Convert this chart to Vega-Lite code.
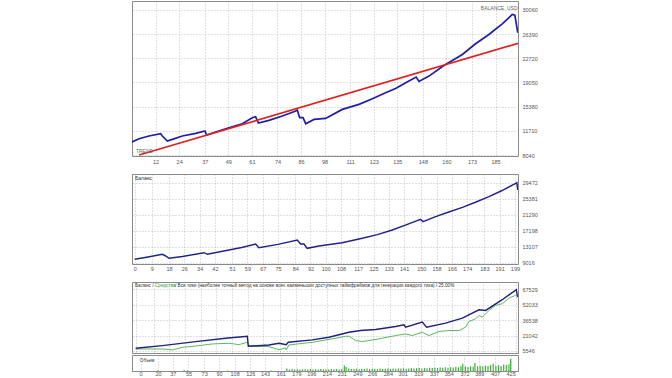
{
  "$schema": "https://vega.github.io/schema/vega-lite/v6.json",
  "padding": {"left": 131, "top": 0, "right": 0, "bottom": 0},
  "autosize": {"type": "pad"},
  "background": "white",
  "bounds": "flush",
  "spacing": 18,
  "config": {
    "view": {"stroke": "#8a8a8a", "strokeWidth": 1},
    "axis": {"grid": true, "gridDash": [1, 2], "gridColor": "#b0b0b0", "gridWidth": 0.8, "domain": false, "ticks": false, "labelFontSize": 5.5, "labelColor": "#555555", "labelFont": "Liberation Sans", "title": null, "format": "d", "labelOverlap": false, "labelFlush": false, "labelBound": false},
    "text": {"font": "Liberation Sans"}
  },
  "datasets": {
    "bal1": [
      {"x": 0, "y": 10011}, {"x": 3.56, "y": 10517}, {"x": 8.65, "y": 10921}, {"x": 14.58, "y": 11275}, {"x": 15.43, "y": 10921}, {"x": 17.97, "y": 10163}, {"x": 20.52, "y": 10416}, {"x": 25.6, "y": 10921}, {"x": 32.4, "y": 11326}, {"x": 37.1, "y": 11679}, {"x": 38.0, "y": 11073}, {"x": 42.6, "y": 11528}, {"x": 49.3, "y": 12185}, {"x": 56.1, "y": 12792}, {"x": 61.2, "y": 13701}, {"x": 62.9, "y": 13853}, {"x": 64.3, "y": 12893}, {"x": 69.7, "y": 13297}, {"x": 76.5, "y": 13954}, {"x": 83.3, "y": 14712}, {"x": 84.1, "y": 14864}, {"x": 85.3, "y": 13701}, {"x": 87.0, "y": 13701}, {"x": 88.4, "y": 12792}, {"x": 92.6, "y": 13449}, {"x": 98.5, "y": 13600}, {"x": 107.0, "y": 14965}, {"x": 115.5, "y": 15723}, {"x": 122.3, "y": 16583}, {"x": 129.0, "y": 17493}, {"x": 134.1, "y": 18150}, {"x": 140.9, "y": 19262}, {"x": 144.6, "y": 19869}, {"x": 146.0, "y": 19211}, {"x": 151.1, "y": 20020}, {"x": 158.7, "y": 21638}, {"x": 168.1, "y": 23306}, {"x": 174.8, "y": 24924}, {"x": 181.6, "y": 26339}, {"x": 188.4, "y": 27957}, {"x": 193.5, "y": 29372}, {"x": 194.8, "y": 29271}, {"x": 196.3, "y": 26592}
    ],
    "trend1": [{"x": 3.6, "y": 8040}, {"x": 196.4, "y": 24990}],
    "lab1": [{"t": "BALANCE, USD", "x": 177.5, "y": 30333}, {"t": "TREND", "x": 2, "y": 8700}],
    "bal2": [
      {"x": 0, "y": 9877}, {"x": 7, "y": 10500}, {"x": 14.5, "y": 11156}, {"x": 16, "y": 10800}, {"x": 18, "y": 10133}, {"x": 25, "y": 10600}, {"x": 36.3, "y": 11582}, {"x": 38, "y": 11156}, {"x": 49.3, "y": 12264}, {"x": 56, "y": 12900}, {"x": 63.3, "y": 13798}, {"x": 65, "y": 12860}, {"x": 75, "y": 13700}, {"x": 85.1, "y": 14821}, {"x": 86.8, "y": 13798}, {"x": 88.6, "y": 13798}, {"x": 90.3, "y": 12691}, {"x": 96.4, "y": 13287}, {"x": 108.6, "y": 14139}, {"x": 119.1, "y": 15247}, {"x": 127, "y": 16200}, {"x": 134.8, "y": 17378}, {"x": 142, "y": 18700}, {"x": 149.6, "y": 20105}, {"x": 150.9, "y": 19509}, {"x": 157.5, "y": 20787}, {"x": 164, "y": 21900}, {"x": 171.5, "y": 23173}, {"x": 178, "y": 24400}, {"x": 185.4, "y": 25901}, {"x": 192, "y": 27400}, {"x": 199.4, "y": 29310}, {"x": 200, "y": 29480}, {"x": 200.5, "y": 27600}
    ],
    "lab2": [{"t": "Баланс", "x": 0.2, "y": 30673}],
    "bal3": [
      {"x": 0, "y": 8229}, {"x": 29.8, "y": 10912}, {"x": 67.1, "y": 14937}, {"x": 100.6, "y": 18291}, {"x": 124.9, "y": 20303}, {"x": 126, "y": 10241}, {"x": 149.1, "y": 11583}, {"x": 160.3, "y": 13260}, {"x": 168.5, "y": 11919}, {"x": 170.7, "y": 14265}, {"x": 197.6, "y": 16614}, {"x": 216.2, "y": 19297}, {"x": 238.6, "y": 24328}, {"x": 251.6, "y": 26005}, {"x": 268.4, "y": 27011}, {"x": 290.8, "y": 30030}, {"x": 300.1, "y": 31707}, {"x": 302, "y": 29359}, {"x": 320.6, "y": 34390}, {"x": 325.5, "y": 29359}, {"x": 346.7, "y": 33386}, {"x": 365.4, "y": 38415}, {"x": 384, "y": 46800}, {"x": 391.5, "y": 46130}, {"x": 410.1, "y": 56862}, {"x": 425.8, "y": 66924}, {"x": 427.2, "y": 59545}
    ],
    "eq3": [
      {"x": 0, "y": 7563}, {"x": 29.8, "y": 7563}, {"x": 41, "y": 6557}, {"x": 52.2, "y": 9234}, {"x": 70, "y": 10800}, {"x": 85.7, "y": 12589}, {"x": 104.4, "y": 13260}, {"x": 115.5, "y": 11919}, {"x": 124.9, "y": 14265}, {"x": 127, "y": 10500}, {"x": 149.1, "y": 9906}, {"x": 160.3, "y": 6888}, {"x": 167.7, "y": 8565}, {"x": 168.5, "y": 6557}, {"x": 171.5, "y": 11583}, {"x": 197.6, "y": 14265}, {"x": 223.7, "y": 18291}, {"x": 234.9, "y": 20303}, {"x": 239, "y": 20303}, {"x": 246, "y": 15943}, {"x": 253.5, "y": 14937}, {"x": 272.1, "y": 17620}, {"x": 290.8, "y": 20974}, {"x": 302, "y": 22651}, {"x": 309.4, "y": 20974}, {"x": 320.6, "y": 24328}, {"x": 328.1, "y": 20974}, {"x": 339.3, "y": 24999}, {"x": 350.4, "y": 26005}, {"x": 361.6, "y": 26005}, {"x": 369.1, "y": 29359}, {"x": 372.8, "y": 35060}, {"x": 380.3, "y": 37744}, {"x": 384, "y": 41098}, {"x": 387.7, "y": 39421}, {"x": 395.2, "y": 46130}, {"x": 402.6, "y": 51160}, {"x": 410.1, "y": 52837}, {"x": 417.6, "y": 58539}, {"x": 425, "y": 61222}
    ],
    "lab3a": [{"t": "Баланс / ", "x": -0.8, "y": 70936}],
    "lab3b": [{"t": "Средства", "x": -0.8, "y": 70936}],
    "lab3c": [{"t": "/ Все тики (наиболее точный метод на основе всех наименьших доступных таймфреймов для генерации каждого тика) / 25.00%", "x": -0.8, "y": 70936}],
    "vol3": [
      {"x": 20, "v": 0.4}, {"x": 50, "v": 0.6}, {"x": 54, "v": 0.5}, {"x": 100, "v": 0.3}, {"x": 150, "v": 0.3},
      {"x": 168, "v": 1.5}, {"x": 171, "v": 1.0}, {"x": 174, "v": 1.2}, {"x": 177, "v": 1.0}, {"x": 180, "v": 1.1}, {"x": 183, "v": 0.9}, {"x": 186, "v": 1.0}, {"x": 189, "v": 1.1}, {"x": 192, "v": 0.9}, {"x": 195, "v": 1.2}, {"x": 198, "v": 1.0}, {"x": 201, "v": 1.1}, {"x": 204, "v": 0.9}, {"x": 207, "v": 1.2}, {"x": 210, "v": 1.0}, {"x": 213, "v": 1.1}, {"x": 216, "v": 1.0}, {"x": 219, "v": 1.2}, {"x": 222, "v": 1.1}, {"x": 225, "v": 1.3}, {"x": 228, "v": 1.0}, {"x": 231, "v": 1.2}, {"x": 234, "v": 3.5}, {"x": 236, "v": 2.5}, {"x": 239, "v": 1.5}, {"x": 242, "v": 1.3}, {"x": 245, "v": 1.2}, {"x": 248, "v": 1.4}, {"x": 251, "v": 1.1}, {"x": 254, "v": 1.3}, {"x": 257, "v": 1.2}, {"x": 260, "v": 1.5}, {"x": 263, "v": 1.2}, {"x": 266, "v": 1.3}, {"x": 269, "v": 1.4}, {"x": 272, "v": 1.2}, {"x": 275, "v": 1.5}, {"x": 278, "v": 1.3}, {"x": 281, "v": 1.4}, {"x": 284, "v": 1.6}, {"x": 287, "v": 1.3}, {"x": 290, "v": 1.5}, {"x": 293, "v": 1.4}, {"x": 296, "v": 1.6}, {"x": 299, "v": 1.5}, {"x": 302, "v": 1.7}, {"x": 305, "v": 1.4}, {"x": 308, "v": 1.6}, {"x": 311, "v": 1.8}, {"x": 314, "v": 1.5}, {"x": 317, "v": 1.7}, {"x": 320, "v": 1.9}, {"x": 323, "v": 1.6}, {"x": 326, "v": 1.8}, {"x": 329, "v": 1.7}, {"x": 332, "v": 2.0}, {"x": 335, "v": 1.8}, {"x": 338, "v": 2.1}, {"x": 341, "v": 1.9}, {"x": 344, "v": 2.2}, {"x": 347, "v": 2.0}, {"x": 350, "v": 2.3}, {"x": 353, "v": 2.1}, {"x": 356, "v": 2.4}, {"x": 359, "v": 2.2}, {"x": 362, "v": 2.6}, {"x": 365, "v": 2.3}, {"x": 368, "v": 3.0}, {"x": 370, "v": 4.5}, {"x": 373, "v": 2.8}, {"x": 376, "v": 2.5}, {"x": 379, "v": 3.0}, {"x": 382, "v": 2.7}, {"x": 384, "v": 5.0}, {"x": 387, "v": 3.0}, {"x": 390, "v": 3.2}, {"x": 393, "v": 2.9}, {"x": 396, "v": 3.5}, {"x": 399, "v": 3.1}, {"x": 402, "v": 3.8}, {"x": 405, "v": 4.5}, {"x": 408, "v": 3.3}, {"x": 411, "v": 3.6}, {"x": 414, "v": 3.2}, {"x": 417, "v": 4.0}, {"x": 420, "v": 3.8}, {"x": 423, "v": 4.2}, {"x": 425, "v": 7.5}
    ],
    "lab4": [{"t": "Объем", "x": -0.8, "y": 6.3}]
  },
  "vconcat": [
    {
      "width": 386, "height": 155,
      "layer": [
        {
          "data": {"name": "bal1"},
          "mark": {"type": "line", "color": "#1e1ea8", "strokeWidth": 1.7, "clip": true},
          "encoding": {
            "x": {"field": "x", "type": "quantitative", "scale": {"domain": [0, 196.4], "nice": false, "zero": false}, "axis": {"orient": "bottom", "values": [12, 24, 37, 49, 61, 74, 86, 98, 111, 123, 135, 148, 160, 173, 185], "labelPadding": 3, "labelOverlap": false, "tickCount": 15}},
            "y": {"field": "y", "type": "quantitative", "scale": {"domain": [7890, 31420], "nice": false, "zero": false}, "axis": {"orient": "right", "values": [8040, 11710, 15380, 19050, 22720, 26390, 30060], "labelPadding": 4, "labelOverlap": false, "tickCount": 7}}
          }
        },
        {
          "data": {"name": "trend1"},
          "mark": {"type": "line", "color": "#e0201c", "strokeWidth": 1.7, "clip": true},
          "encoding": {"x": {"field": "x", "type": "quantitative"}, "y": {"field": "y", "type": "quantitative"}}
        },
        {
          "data": {"name": "lab1"},
          "mark": {"type": "text", "align": "left", "baseline": "middle", "fontSize": 5, "color": "#666666"},
          "encoding": {"x": {"field": "x", "type": "quantitative"}, "y": {"field": "y", "type": "quantitative"}, "text": {"field": "t"}}
        }
      ]
    },
    {
      "width": 386, "height": 90,
      "layer": [
        {
          "data": {"name": "bal2"},
          "mark": {"type": "line", "color": "#22228c", "strokeWidth": 1.5, "clip": true},
          "encoding": {
            "x": {"field": "x", "type": "quantitative", "scale": {"domain": [-1.4, 200.6], "nice": false, "zero": false}, "axis": {"orient": "bottom", "values": [0, 9, 18, 26, 34, 42, 51, 59, 67, 75, 84, 92, 100, 108, 117, 125, 133, 141, 150, 158, 166, 174, 183, 191, 199], "labelPadding": 2, "labelOverlap": false, "tickCount": 25}},
            "y": {"field": "y", "type": "quantitative", "scale": {"domain": [8684, 31697], "nice": false, "zero": false}, "axis": {"orient": "right", "values": [9016, 13107, 17198, 21290, 25381, 29472], "labelPadding": 4, "labelOverlap": false, "tickCount": 6}}
          }
        },
        {
          "data": {"name": "lab2"},
          "mark": {"type": "text", "align": "left", "baseline": "middle", "fontSize": 5, "color": "#333333"},
          "encoding": {"x": {"field": "x", "type": "quantitative"}, "y": {"field": "y", "type": "quantitative"}, "text": {"field": "t"}}
        }
      ]
    },
    {
      "bounds": "flush",
      "spacing": 2,
      "vconcat": [
        {
          "width": 386, "height": 71,
          "layer": [
            {
              "data": {"name": "eq3"},
              "mark": {"type": "line", "color": "#48b048", "strokeWidth": 0.9, "clip": true},
              "encoding": {
                "x": {"field": "x", "type": "quantitative", "scale": {"domain": [-4.1, 427.7], "nice": false, "zero": false}, "axis": {"orient": "bottom", "labels": false, "values": [0, 20, 37, 55, 73, 90, 108, 126, 143, 161, 179, 196, 214, 231, 249, 266, 284, 301, 319, 337, 354, 372, 389, 407, 425], "tickCount": 25}},
                "y": {"field": "y", "type": "quantitative", "scale": {"domain": [3534, 74571], "nice": false, "zero": false}, "axis": {"orient": "right", "values": [5546, 21042, 36538, 52033, 67529], "labelPadding": 4, "labelOverlap": false, "tickCount": 5}}
              }
            },
            {
              "data": {"name": "bal3"},
              "mark": {"type": "line", "color": "#20207f", "strokeWidth": 1.4, "clip": true},
              "encoding": {"x": {"field": "x", "type": "quantitative"}, "y": {"field": "y", "type": "quantitative"}}
            },
            {
              "data": {"name": "lab3a"},
              "mark": {"type": "text", "align": "left", "baseline": "middle", "fontSize": 4.7, "color": "#333333"},
              "encoding": {"x": {"field": "x", "type": "quantitative"}, "y": {"field": "y", "type": "quantitative"}, "text": {"field": "t"}}
            },
            {
              "data": {"name": "lab3b"},
              "mark": {"type": "text", "align": "left", "baseline": "middle", "fontSize": 4.7, "color": "#2ea02e", "dx": 20},
              "encoding": {"x": {"field": "x", "type": "quantitative"}, "y": {"field": "y", "type": "quantitative"}, "text": {"field": "t"}}
            },
            {
              "data": {"name": "lab3c"},
              "mark": {"type": "text", "align": "left", "baseline": "middle", "fontSize": 4.7, "color": "#333333", "dx": 40},
              "encoding": {"x": {"field": "x", "type": "quantitative"}, "y": {"field": "y", "type": "quantitative"}, "text": {"field": "t"}}
            }
          ]
        },
        {
          "width": 386, "height": 16,
          "layer": [
            {
              "data": {"name": "vol3"},
              "mark": {"type": "bar", "color": "#3cb03c", "size": 1.2, "clip": true},
              "encoding": {
                "x": {"field": "x", "type": "quantitative", "scale": {"domain": [-4.1, 427.7], "nice": false, "zero": false}, "axis": {"orient": "bottom", "values": [0, 20, 37, 55, 73, 90, 108, 126, 143, 161, 179, 196, 214, 231, 249, 266, 284, 301, 319, 337, 354, 372, 389, 407, 425], "labelPadding": 0, "labelOverlap": false, "tickCount": 25}},
                "y": {"field": "v", "type": "quantitative", "scale": {"domain": [0, 10], "nice": false}, "axis": null}
              }
            },
            {
              "data": {"name": "lab4"},
              "mark": {"type": "text", "align": "left", "baseline": "middle", "fontSize": 4.6, "color": "#333333"},
              "encoding": {"x": {"field": "x", "type": "quantitative"}, "y": {"field": "y", "type": "quantitative"}, "text": {"field": "t"}}
            }
          ]
        }
      ]
    }
  ]
}
